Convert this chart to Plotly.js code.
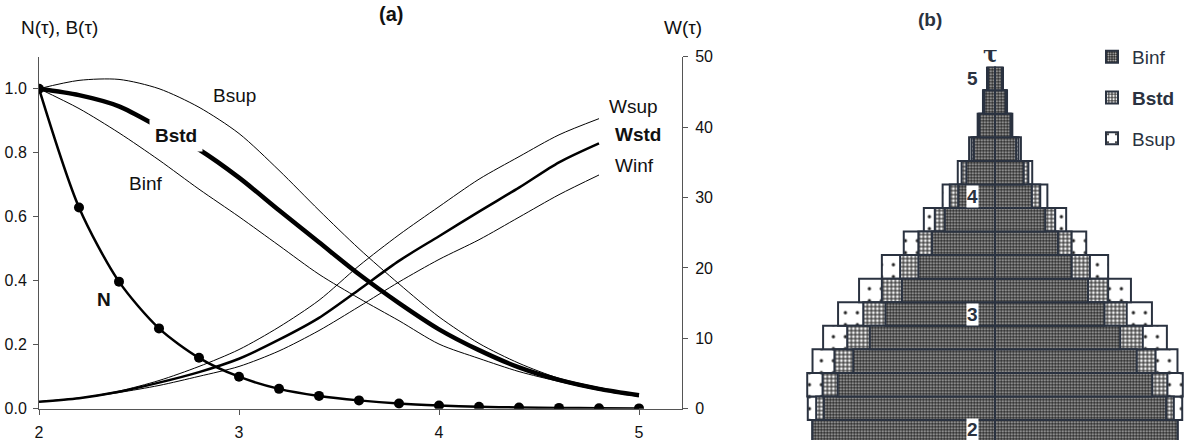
<!DOCTYPE html>
<html>
<head>
<meta charset="utf-8">
<script src="https://cdn.plot.ly/plotly-3.0.1.min.js"></script>
<style>html,body{margin:0;padding:0;background:#fff;}#chart{width:1188px;height:440px;}</style>
</head>
<body>
<div id="chart"></div>
<script>
// ---- data ----
const tau  = [2.0, 2.2, 2.4, 2.6, 2.8, 3.0, 3.2, 3.4, 3.6, 3.8, 4.0, 4.2, 4.4, 4.6, 4.8, 5.0];
const N    = [1.0, 0.629, 0.397, 0.251, 0.159, 0.100, 0.062, 0.040, 0.026, 0.016, 0.010, 0.006, 0.004, 0.0025, 0.0016, 0.001];
const Bsup = [1.0, 1.026, 1.029, 1.0, 0.942, 0.860, 0.745, 0.620, 0.500, 0.390, 0.287, 0.204, 0.142, 0.095, 0.066, 0.044];
const Bstd = [1.0, 0.980, 0.945, 0.880, 0.810, 0.722, 0.620, 0.520, 0.420, 0.330, 0.248, 0.183, 0.129, 0.090, 0.062, 0.042];
const Binf = [1.0, 0.938, 0.862, 0.777, 0.686, 0.600, 0.510, 0.420, 0.345, 0.275, 0.202, 0.157, 0.116, 0.085, 0.058, 0.038];
const Wsup = [1.0, 1.5, 2.5, 4.0, 6.0, 8.4, 11.6, 15.4, 20.3, 24.7, 28.7, 32.6, 35.8, 38.9, 41.2];
const Wstd = [1.0, 1.5, 2.4, 3.7, 5.2, 7.1, 9.8, 12.9, 16.9, 21.0, 24.5, 28.0, 31.4, 35.0, 37.7];
const Winf = [1.0, 1.5, 2.3, 3.3, 4.6, 6.0, 8.2, 11.1, 14.5, 18.0, 21.2, 24.0, 27.2, 30.4, 33.2];
const xTicks = [2, 3, 4, 5];
const leftTicks = [0, 0.2, 0.4, 0.6, 0.8, 1.0];
const rightTicks = [0, 10, 20, 30, 40, 50];
const rowLabelTau = [2, 3, 4, 5];

// ---- helpers ----
const W = 1188, H = 440;
const px = x => x / W;
const py = y => 1 - y / H;
const FONT = 'Liberation Sans, Arial, sans-serif';
const INK = '#111';
const SLATE = '#2a3240';
const tauW = tau.slice(0, Wstd.length);

function line(x, y, width, yaxis, extra) {
  return Object.assign({
    type: 'scatter', mode: 'lines', x: x, y: y, xaxis: 'x', yaxis: yaxis,
    line: {color: '#000', width: width, shape: 'spline', smoothing: 0.8},
    showlegend: false, hoverinfo: 'skip'
  }, extra || {});
}

function pyramid(name, vals, bg, pattern, rank) {
  return {
    type: 'bar', orientation: 'h', name: name, legendgroup: name, legendrank: rank,
    y: tau.concat(tau), x: vals.concat(vals.map(v => -v)),
    width: 0.2, xaxis: 'x2', yaxis: 'y2', opacity: 1,
    marker: {color: bg, pattern: pattern, line: {color: SLATE, width: 2}},
    hoverinfo: 'skip'
  };
}

const traces = [
  line(tau, Bsup, 1, 'y'),
  line(tau, Binf, 1, 'y'),
  line(tau, Bstd, 4.5, 'y'),
  line(tauW, Wsup, 1, 'y3'),
  line(tauW, Winf, 1, 'y3'),
  line(tauW, Wstd, 2.5, 'y3'),
  line(tau, N, 2.5, 'y', {mode: 'lines+markers', marker: {color: '#000', size: 10}}),
  pyramid('Bsup', Bsup, '#ffffff', {shape: '.', fgcolor: '#222', bgcolor: '#ffffff', size: 12, solidity: 0.06, fillmode: 'replace'}, 3),
  pyramid('<b>Bstd</b>', Bstd, '#777', {shape: '.', fgcolor: '#f0f0f0', bgcolor: '#4e4e4e', size: 4, solidity: 0.42, fillmode: 'replace'}, 2),
  pyramid('Binf', Binf, '#444', {shape: '.', fgcolor: '#c8c8c8', bgcolor: '#2a2a2a', size: 3, solidity: 0.35, fillmode: 'replace'}, 1)
];

function ann(text, x, y, size, bold, extra) {
  return Object.assign({
    text: bold ? '<b>' + text + '</b>' : text,
    xref: 'paper', yref: 'paper', x: px(x), y: py(y),
    xanchor: 'center', yanchor: 'middle', showarrow: false,
    font: {family: FONT, size: size, color: INK}
  }, extra || {});
}

const annotations = [
  ann('N(τ), B(τ)', 59, 27, 19, false),
  ann('(a)', 391, 14, 20, true),
  ann('W(τ)', 683, 27, 19, false),
  ann('Bsup', 234, 96, 19, false, {bgcolor: '#fff'}),
  ann('Bstd', 176, 135, 19, true, {bgcolor: '#fff', borderpad: 5}),
  ann('Binf', 145, 183, 19, false, {bgcolor: '#fff'}),
  ann('N', 104, 299, 19, true),
  ann('Wsup', 633, 106, 19, false),
  ann('Wstd', 638, 134, 19, true),
  ann('Winf', 634, 166, 19, false),
  ann('(b)', 930, 20, 19, true, {font: {family: FONT, size: 19, color: SLATE}}),
  ann('τ', 991, 54, 22, true, {font: {family: 'DejaVu Serif, serif', size: 22, color: SLATE}})
];
rowLabelTau.forEach(t => {
  annotations.push({
    text: '<b>' + String(t) + '</b>', xref: 'x2', yref: 'y2', x: -0.126, y: t,
    xanchor: 'center', yanchor: 'middle', yshift: t === rowLabelTau[0] ? 2 : 0,
    showarrow: false, bgcolor: '#ffffff', borderpad: 0,
    font: {family: FONT, size: 19, color: SLATE}
  });
});

const axisCommon = {
  showgrid: false, zeroline: false, showline: true, linecolor: '#555', linewidth: 1,
  ticks: 'outside', ticklen: 5, tickcolor: '#555', tickwidth: 1,
  tickfont: {family: FONT, size: 16, color: INK}, fixedrange: true
};

const layout = {
  width: W, height: H,
  margin: {l: 0, r: 0, t: 0, b: 0, pad: 0},
  paper_bgcolor: '#fff', plot_bgcolor: 'rgba(0,0,0,0)',
  font: {family: FONT, color: INK},
  barmode: 'overlay',
  xaxis: Object.assign({}, axisCommon, {
    domain: [px(39), px(682)], range: [2, 5.215], anchor: 'y',
    tickmode: 'array', tickvals: xTicks, ticktext: xTicks.map(String), ticklabelstandoff: 4
  }),
  yaxis: Object.assign({}, axisCommon, {
    domain: [py(408.7), py(56.7)], range: [0, 1.1], anchor: 'x',
    tickmode: 'array', tickvals: leftTicks, ticktext: leftTicks.map(v => v.toFixed(1)), ticklabelstandoff: 3
  }),
  yaxis3: Object.assign({}, axisCommon, {
    overlaying: 'y', side: 'right', anchor: 'x', range: [0, 50],
    tickmode: 'array', tickvals: rightTicks, ticktext: rightTicks.map(String), ticklabelstandoff: 4
  }),
  xaxis2: {domain: [px(803.4), px(1186.6)], range: [-1.05, 1.05], visible: false, anchor: 'y2', fixedrange: true},
  yaxis2: {domain: [0, py(66.7)], range: [1.93, 5.1], visible: false, anchor: 'x2', fixedrange: true},
  showlegend: true,
  legend: {
    x: px(1092), y: py(38), xanchor: 'left', yanchor: 'top',
    bgcolor: 'rgba(0,0,0,0)', borderwidth: 0,
    font: {family: FONT, size: 19, color: SLATE},
    traceorder: 'grouped', tracegroupgap: 13, itemwidth: 30
  },
  annotations: annotations
};

Plotly.newPlot('chart', traces, layout, {staticPlot: true, displayModeBar: false});
</script>
</body>
</html>
